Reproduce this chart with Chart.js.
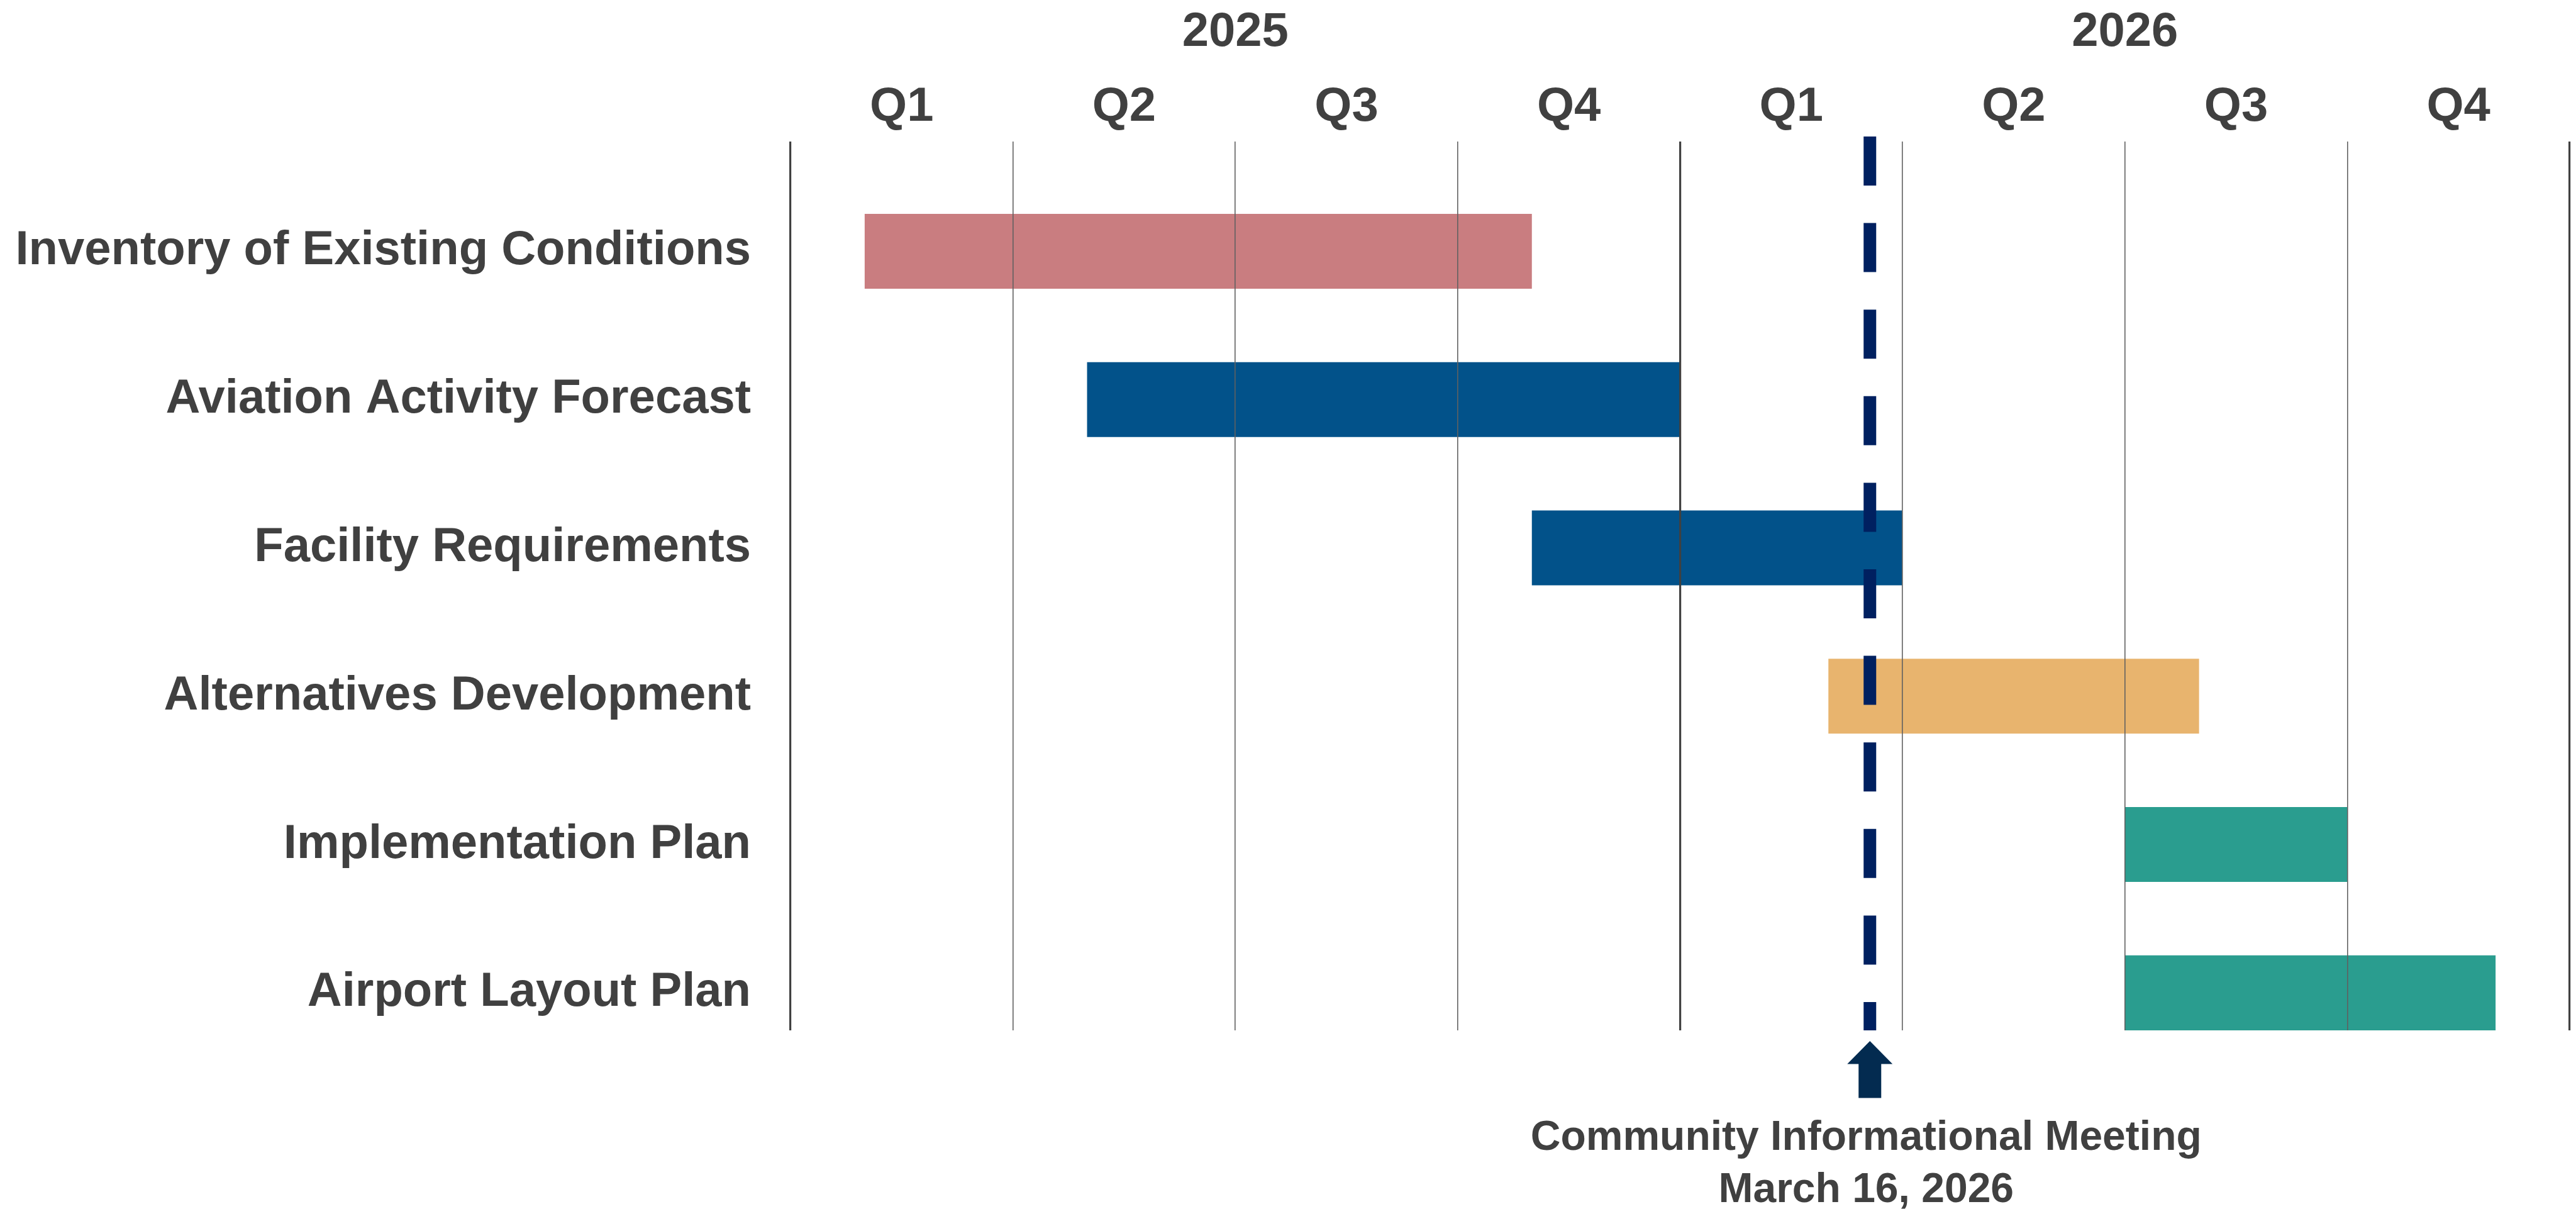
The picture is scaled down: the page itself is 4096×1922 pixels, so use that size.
<!DOCTYPE html>
<html lang="en">

<head>
    <meta charset="UTF-8">
    <title>Master Plan Schedule</title>
    <style>
        html, body { margin: 0; padding: 0; background: #fff; }
        #cronograma { display: block; }
    </style>
</head>

<body>
    <canvas id="cronograma" width="4096" height="1922"></canvas>

    <script src="https://cdn.jsdelivr.net/npm/chart.js"></script>
    <script>
        // tasks, top to bottom
        var tarefas = [
            'Inventory of Existing Conditions',
            'Aviation Activity Forecast',
            'Facility Requirements',
            'Alternatives Development',
            'Implementation Plan',
            'Airport Layout Plan'
        ];
        // months counted from Jan 2025 (0) to Jan 2027 (24)
        var inicio = [1, 4, 10, 14, 18, 18];
        var fim = [10, 12, 15, 19, 21, 23];
        var cores = ['#C97D80', '#02528A', '#02528A', '#E8B46E', '#2A9D8F', '#2A9D8F'];

        var trimestres = ['Q1', 'Q2', 'Q3', 'Q4', 'Q1', 'Q2', 'Q3', 'Q4'];
        var anos = ['2025', '2026'];

        // Community Informational Meeting, March 16 2026
        var mesReuniao = 14.56;
        var textoReuniao = ['Community Informational Meeting', 'March 16, 2026'];

        var corTexto = '#404040';
        var fonte = '"Liberation Sans", Arial, sans-serif';

        var barras = tarefas.map(function (t, i) {
            return { x: [inicio[i], fim[i]], y: i };
        });

        // year / quarter headers + meeting marker
        var marcador = {
            id: 'marcador',
            afterDraw: function (chart) {
                var ctx = chart.ctx;
                var area = chart.chartArea;
                var x = chart.scales.x;

                ctx.save();
                ctx.fillStyle = corTexto;
                ctx.textAlign = 'center';
                ctx.textBaseline = 'alphabetic';
                ctx.font = 'bold 76px ' + fonte;
                trimestres.forEach(function (q, i) {
                    ctx.fillText(q, x.getPixelForValue(i * 3 + 1.5), area.top - 33);
                });
                anos.forEach(function (a, i) {
                    ctx.fillText(a, x.getPixelForValue(i * 12 + 6), area.top - 152);
                });

                // dashed line
                var mx = x.getPixelForValue(mesReuniao);
                ctx.save();
                ctx.beginPath();
                ctx.rect(0, 0, chart.width, area.bottom);
                ctx.clip();
                ctx.strokeStyle = '#002060';
                ctx.lineWidth = 20;
                ctx.lineCap = 'butt';
                ctx.setLineDash([78, 59.6]);
                ctx.beginPath();
                ctx.moveTo(mx, area.top - 8);
                ctx.lineTo(mx, area.bottom + 40);
                ctx.stroke();
                ctx.restore();

                // arrow
                var topo = area.bottom + 17;
                var baseCabeca = area.bottom + 53.5;
                var fundo = area.bottom + 107.5;
                ctx.fillStyle = '#032B50';
                ctx.beginPath();
                ctx.moveTo(mx, topo);
                ctx.lineTo(mx + 36, baseCabeca);
                ctx.lineTo(mx + 18, baseCabeca);
                ctx.lineTo(mx + 18, fundo);
                ctx.lineTo(mx - 18, fundo);
                ctx.lineTo(mx - 18, baseCabeca);
                ctx.lineTo(mx - 36, baseCabeca);
                ctx.closePath();
                ctx.fill();

                ctx.fillStyle = corTexto;
                ctx.font = 'bold 66px ' + fonte;
                ctx.fillText(textoReuniao[0], mx - 6, area.bottom + 190);
                ctx.fillText(textoReuniao[1], mx - 6, area.bottom + 272.7);
                ctx.restore();
            }
        };

        function linhaPrincipal(ctx) {
            return ctx.tick && ctx.tick.value % 12 === 0;
        }

        var grafico = new Chart(document.getElementById('cronograma'), {
            type: 'bar',
            data: {
                datasets: [{
                    data: barras,
                    backgroundColor: cores,
                    borderWidth: 0,
                    barPercentage: 0.505,
                    categoryPercentage: 1
                }]
            },
            options: {
                indexAxis: 'y',
                responsive: false,
                animation: false,
                layout: {
                    padding: { top: 225, right: 10, bottom: 284, left: 0 }
                },
                plugins: {
                    legend: { display: false },
                    title: { display: false },
                    tooltip: { enabled: false }
                },
                scales: {
                    x: {
                        type: 'linear',
                        position: 'bottom',
                        min: 0,
                        max: 24,
                        ticks: { display: false, stepSize: 3 },
                        border: { display: false },
                        grid: {
                            z: 1,
                            drawTicks: false,
                            color: function (ctx) { return linhaPrincipal(ctx) ? '#404040' : '#606060'; },
                            lineWidth: function (ctx) { return linhaPrincipal(ctx) ? 3.2 : 1.6; }
                        },
                        afterFit: function (scale) { scale.height = 0; }
                    },
                    y: {
                        type: 'linear',
                        reverse: true,
                        offset: false,
                        min: -0.74,
                        max: 5.253,
                        border: { display: false },
                        grid: { display: false, drawTicks: false, offset: false },
                        afterBuildTicks: function (scale) {
                            scale.ticks = tarefas.map(function (t, i) { return { value: i }; });
                        },
                        ticks: {
                            padding: 63,
                            color: corTexto,
                            font: { family: fonte, size: 76, weight: 'bold' },
                            callback: function (valor) { return tarefas[valor]; }
                        },
                        afterFit: function (scale) { scale.width = 1257; }
                    }
                }
            },
            plugins: [marcador]
        });
    </script>
</body>

</html>
